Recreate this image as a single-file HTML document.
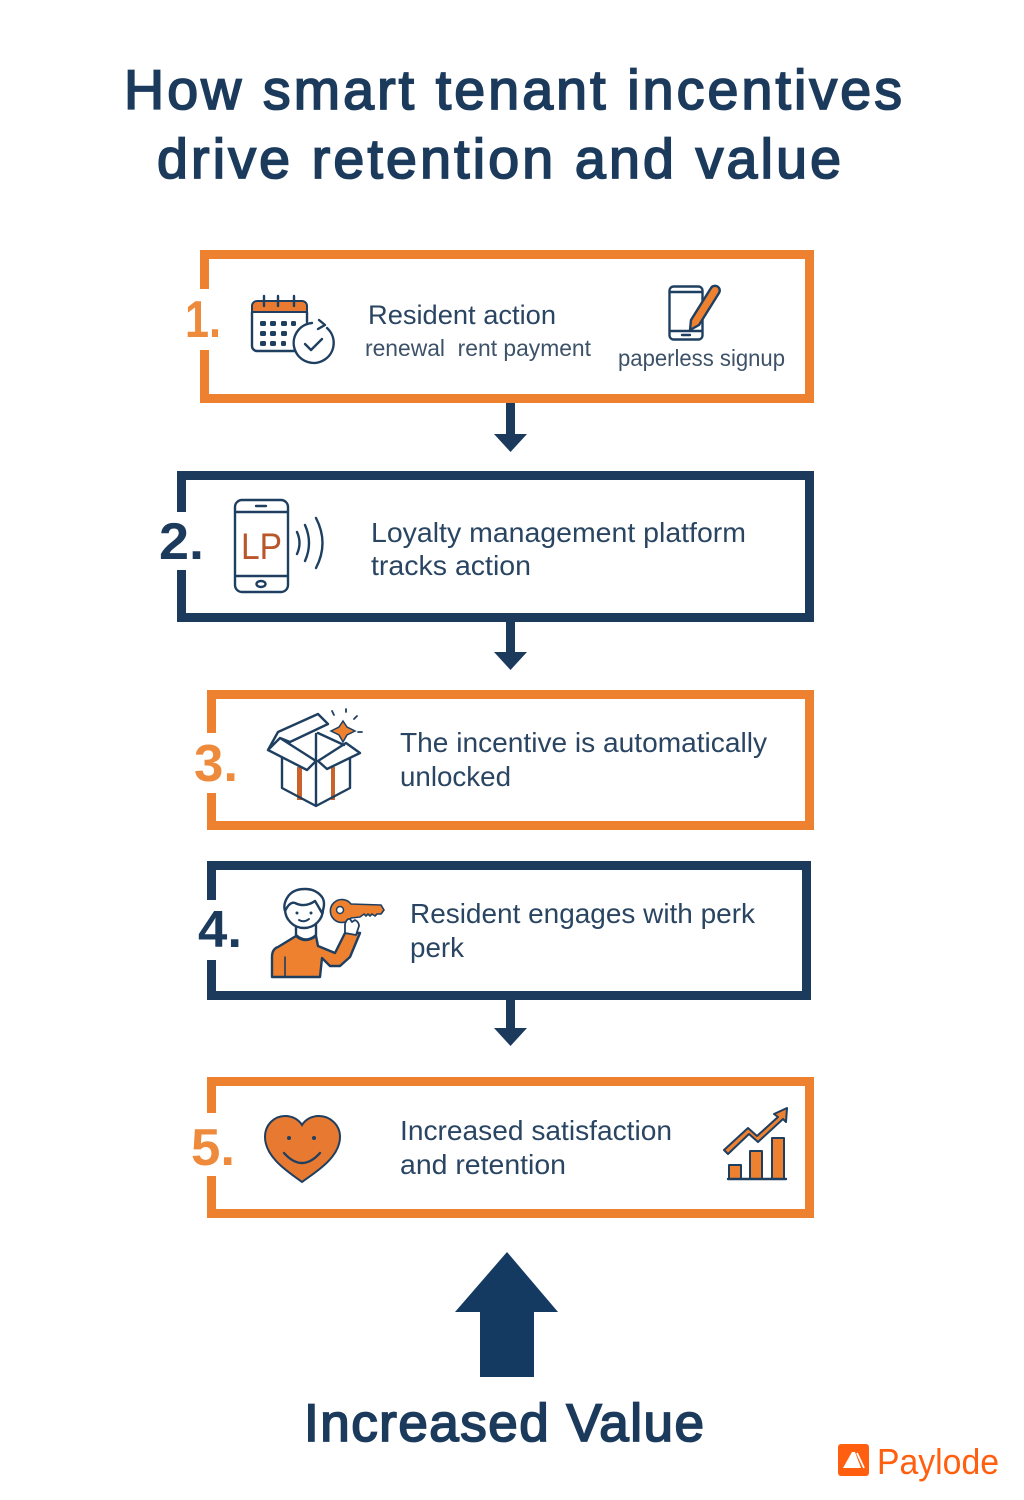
<!DOCTYPE html>
<html><head><meta charset="utf-8"><style>
html,body{margin:0;padding:0;background:#fff}
svg{display:block}
text{font-family:"Liberation Sans",sans-serif;fill:#2a4562}
.t{fill:#1b3a5c;stroke:#1b3a5c;stroke-width:1.8px;font-size:55.5px}
.b{font-size:28px}
.s{font-size:23px;fill:#3d5268}
.n{font-weight:bold;font-size:52px}
.i{fill:none;stroke:#1f3f61;stroke-width:2.4;stroke-linejoin:round;stroke-linecap:round}
.o{fill:#ee8130;stroke:#1f3f61;stroke-width:2.4;stroke-linejoin:round;stroke-linecap:round}
.g{fill:none;stroke-width:9}
</style></head><body>
<svg width="1024" height="1500" viewBox="0 0 1024 1500" xmlns="http://www.w3.org/2000/svg">
<rect width="1024" height="1500" fill="#fff"/>
<text class="t" x="124" y="109" textLength="778" lengthAdjust="spacing">How smart tenant incentives</text>
<text class="t" x="157" y="178" textLength="684" lengthAdjust="spacing">drive retention and value</text>

<!-- Box 1 -->
<path class="g" stroke="#ee8130" d="M204.500 289V254.500H809.500V398.500H204.500V350"/>
<text class="n" x="185" y="337" style="fill:#ee8a3c" textLength="36" lengthAdjust="spacingAndGlyphs">1.</text>
<g>
<path d="M252 312v-6a5 5 0 0 1 5-5h45a5 5 0 0 1 5 5v6z" fill="#ea7a30" stroke="#1f3f61" stroke-width="2"/>
<path class="i" d="M252 312v34a5 5 0 0 0 5 5h38M307 312v10M264 296v10M278 296v10M294 296v10"/>
<g fill="#1f3f61"><rect x="260" y="321" width="6" height="5" rx="1.500"/><rect x="270" y="321" width="6" height="5" rx="1.500"/><rect x="281" y="321" width="6" height="5" rx="1.500"/><rect x="291" y="321" width="5" height="5" rx="1.500"/><rect x="260" y="331" width="6" height="5" rx="1.500"/><rect x="270" y="331" width="6" height="5" rx="1.500"/><rect x="281" y="331" width="6" height="5" rx="1.500"/><rect x="260" y="341" width="6" height="5" rx="1.500"/><rect x="270" y="341" width="6" height="5" rx="1.500"/><rect x="281" y="341" width="5" height="5" rx="1.500"/></g>
<circle cx="314" cy="343" r="20" fill="#fff"/>
<path class="i" d="M327 328a20 20 0 1 1-15-5M305 344l6 6 11-11M319 320l6 5-7 4"/>
</g>
<text class="b" x="368" y="324" textLength="188" lengthAdjust="spacingAndGlyphs" style="font-size:27px">Resident action</text>
<text class="s" x="365" y="356" textLength="226" lengthAdjust="spacingAndGlyphs">renewal&#160;&#160;rent payment</text>
<g>
<rect class="i" x="669.500" y="286.500" width="33" height="53" rx="4"/>
<path class="i" d="M670 292h32M670 331h32M682 335h8"/>
<path class="o" d="M691 320l20-32a4 4 0 0 1 8 5l-20 32-9 5z"/>
</g>
<text class="s" x="618" y="366" textLength="167" lengthAdjust="spacingAndGlyphs">paperless signup</text>

<path d="M506 403h9v31h12l-16.500 18L494 434h12z" fill="#1b3a5c"/>

<!-- Box 2 -->
<path class="g" stroke="#1b3a5c" d="M181.500 512V475.500H809.500V617.500H181.500V570"/>
<text class="n" x="159" y="559" style="fill:#1b3a5c" textLength="45" lengthAdjust="spacingAndGlyphs">2.</text>
<g>
<rect class="i" x="235" y="500" width="53" height="92" rx="7"/>
<path class="i" d="M236 512h51M236 576h51M256 506h10"/>
<ellipse class="i" cx="261" cy="584" rx="4.500" ry="3"/>
<text x="241" y="559" style="fill:#b9562a;font-size:37px" textLength="41" lengthAdjust="spacingAndGlyphs">LP</text>
<path class="i" d="M297 532q5 11 0 22M305 525q8 18 0 36M316 518q13 25 0 50"/>
</g>
<text class="b" x="371" y="542" textLength="375" lengthAdjust="spacingAndGlyphs">Loyalty management platform</text>
<text class="b" x="371" y="575" textLength="160" lengthAdjust="spacingAndGlyphs">tracks action</text>

<path d="M506 622h9v30h12l-16.500 18L494 652h12z" fill="#1b3a5c"/>

<!-- Box 3 -->
<path class="g" stroke="#ee8130" d="M211.500 733V694.500H809.500V825.500H211.500V793"/>
<text class="n" x="194" y="781" style="fill:#ee8a3c" textLength="44" lengthAdjust="spacingAndGlyphs">3.</text>
<g>
<path d="M297 767h5v33h-5zM331 767h4v33h-4z" fill="#c9622b"/>
<path class="i" d="M282 758v30l34 18 34-18v-30M316 761v45M316 761l-9 9-39-20 12-12zM318 761l9 8 33-16-14-10zM268 750l10-18 40-18 10 10-38 18M280 738l10 4M316 734v27M318 733l26 12"/>
<path d="M343 721l4 6 8 4-8 4-4 7-4-7-8-4 8-4z" fill="#ee8130" stroke="#1f3f61" stroke-width="1.500"/>
<path class="i" d="M332 711l2 4M346 709v3M357 716l-3 3M358 732h4" style="stroke-width:1.800"/>
</g>
<text class="b" x="400" y="752" textLength="367" lengthAdjust="spacingAndGlyphs">The incentive is automatically</text>
<text class="b" x="400" y="786" textLength="111" lengthAdjust="spacingAndGlyphs">unlocked</text>

<!-- Box 4 -->
<path class="g" stroke="#1b3a5c" d="M211.500 900V865.500H806.500V995.500H211.500V960"/>
<text class="n" x="198" y="947" style="fill:#1b3a5c" textLength="44" lengthAdjust="spacingAndGlyphs">4.</text>
<g>
<path class="o" d="M272 977v-20q0-8 6-10l18-11q9 8 20 0l2 10 17 7 10-20h15l-10 24-10 9h-10l-8-8-2 19z"/>
<path class="i" d="M285 977v-20" style="stroke-width:1.600"/>
<path class="i" style="fill:#fff" d="M296 924v11q10 9 20 0v-11"/>
<circle class="i" cx="304" cy="909" r="19" style="fill:#fff"/>
<path class="i" d="M285 911q5-10 10-8 10 5 20-2l3 5 4 7q4-10 0-16-6-8-17-8-13 0-18 9-4 7-2 13z" style="fill:#fff"/>
<path class="i" d="M299 920q5 3 10-1" style="stroke-width:2"/>
<circle cx="297" cy="913" r="1.500" fill="#1f3f61"/><circle cx="311" cy="913" r="1.500" fill="#1f3f61"/>
<path class="o" d="M351 904l30 1 3 5-3 4-4 0-2 2-3-2-2 2-2-2-2 2-2-2-4 3-9 1a11.500 11.500 0 1 1 0-14z" style="stroke-width:1.600"/>
<circle cx="340" cy="910" r="3.500" fill="#fff" stroke="#1f3f61" stroke-width="1.500"/>
<path class="i" d="M345 933v-9q2-6 5-5l2 3 3-2q4 2 4 6l-3 9z" style="fill:#fff;stroke-width:1.800"/>
</g>
<text class="b" x="410" y="923" textLength="345" lengthAdjust="spacingAndGlyphs">Resident engages with perk</text>
<text class="b" x="410" y="957" textLength="54" lengthAdjust="spacingAndGlyphs">perk</text>

<path d="M506 1000h9v28h12l-16.500 18L494 1028h12z" fill="#1b3a5c"/>

<!-- Box 5 -->
<path class="g" stroke="#ee8130" d="M211.500 1113V1081.500H809.500V1213.500H211.500V1176"/>
<text class="n" x="191" y="1165" style="fill:#ee8a3c" textLength="44" lengthAdjust="spacingAndGlyphs">5.</text>
<g>
<path d="M302 1182c-12-9-37-24-37-45 0-13 10-21 20-21 8 0 14 4 17 9 3-5 9-9 17-9 10 0 21 8 21 21 0 21-26 36-38 45z" fill="#e77a30" stroke="#1f3f61" stroke-width="2"/>
<circle cx="289" cy="1138" r="2" fill="#1f3f61"/><circle cx="314" cy="1138" r="2" fill="#1f3f61"/>
<path class="i" d="M284 1153q18 20 36 0"/>
</g>
<text class="b" x="400" y="1140" textLength="272" lengthAdjust="spacingAndGlyphs">Increased satisfaction</text>
<text class="b" x="400" y="1174" textLength="166" lengthAdjust="spacingAndGlyphs">and retention</text>
<g>
<path class="o" d="M724 1150l24-22 9 8 21-19-4-3 13-6-1 14-3-3-25 23-9-8-21 20z" style="stroke-width:2"/>
<path class="o" d="M729 1179v-14h12v14zM750 1179v-28h12v28zM772 1179v-41h12v41z" style="stroke-width:2"/>
<path class="i" d="M728 1179h58"/>
</g>

<!-- Big arrow -->
<path d="M507 1252l51 60h-24v65h-54v-65h-25z" fill="#153a61"/>
<text class="t" x="304" y="1441" textLength="400" lengthAdjust="spacing" style="font-size:53px">Increased Value</text>

<!-- Logo -->
<rect x="838" y="1444" width="31" height="32" rx="3" fill="#ff5f0f"/>
<path d="M843 1468l9-16h3l6 16z" fill="#fff"/>
<path d="M857 1453l7 15" stroke="#fff" stroke-width="1.800"/>
<text x="877" y="1474" style="fill:#ff5f0f;font-size:36px" textLength="122" lengthAdjust="spacingAndGlyphs">Paylode</text>
</svg>
</body></html>
